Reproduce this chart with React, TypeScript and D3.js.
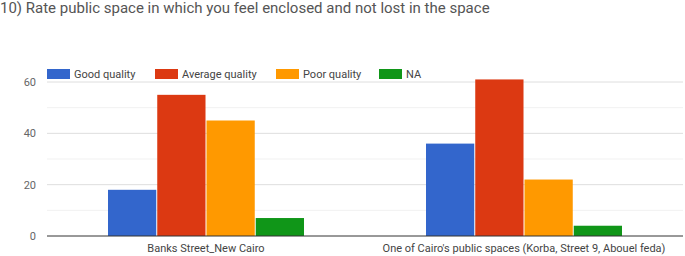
import React from "react";
import * as d3 from "d3";

const categories = ["Banks Street_New Cairo", "One of Cairo's public spaces (Korba, Street 9, Abouel feda)"];
const seriesNames = ["Good quality", "Average quality", "Poor quality", "NA"];
const goodQuality = [18, 36];
const averageQuality = [55, 61];
const poorQuality = [45, 22];
const naValues = [7, 4];
const yTicks = [0, 20, 40, 60];
const yMinorTicks = [10, 30, 50];
const colors = ["#3366cc", "#dc3912", "#ff9900", "#109618"];

export default function App() {
  const W = 685, H = 256;
  const left = 47, right = 683, top = 82, bottom = 236;
  const series = [goodQuality, averageQuality, poorQuality, naValues];
  const x0 = d3.scaleBand().domain(categories).range([left, right]).paddingInner(0).paddingOuter(0);
  const groupW = 196;
  const x1 = d3.scaleBand().domain(seriesNames).range([0, groupW]).paddingInner(0.02);
  const y = d3.scaleLinear().domain([0, 60]).range([bottom, top]);
  const legendX = [47, 155, 276, 379];
  const font = "Roboto, Arial, sans-serif";
  return (
    <svg width={W} height={H} style={{ position: "absolute", left: 0, top: 0, background: "#fff" }} fontFamily={font}>
      <text x={0} y={13} fontSize={15} fill="#555">10) Rate public space in which you feel enclosed and not lost in the space</text>
      {yMinorTicks.map(t => (
        <line key={"m" + t} x1={left} x2={right} y1={y(t)} y2={y(t)} stroke="#f1f1f1" />
      ))}
      {yTicks.filter(t => t > 0).map(t => (
        <line key={"g" + t} x1={left} x2={right} y1={y(t)} y2={y(t)} stroke="#dedede" />
      ))}
      {yTicks.map(t => (
        <text key={"t" + t} x={36} y={y(t) + 4} fontSize={11} fill="#666" textAnchor="end">{t}</text>
      ))}
      {categories.map((c, ci) => {
        const gx = (x0(c) as number) + (x0.bandwidth() - groupW) / 2;
        return (
          <g key={c}>
            {series.map((s, si) => (
              <rect key={si} x={gx + (x1(seriesNames[si]) as number)} y={y(s[ci])} width={x1.bandwidth()} height={bottom - y(s[ci])} fill={colors[si]} />
            ))}
            <text x={(x0(c) as number) + x0.bandwidth() / 2} y={252} fontSize={11} fill="#444" textAnchor="middle">{c}</text>
          </g>
        );
      })}
      <line x1={left} x2={right} y1={bottom} y2={bottom} stroke="#333" />
      {seriesNames.map((n, i) => (
        <g key={n}>
          <rect x={legendX[i]} y={69} width={23} height={10} fill={colors[i]} />
          <text x={legendX[i] + 27} y={78} fontSize={11} fill="#444">{n}</text>
        </g>
      ))}
    </svg>
  );
}
